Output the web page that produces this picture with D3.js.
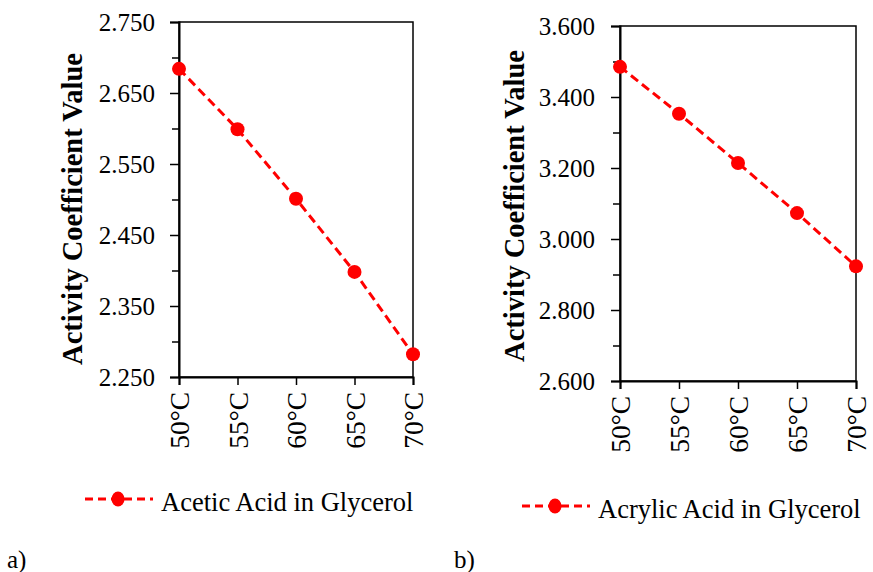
<!DOCTYPE html>
<html><head><meta charset="utf-8">
<script src="https://cdn.jsdelivr.net/npm/d3@7"></script>
<style>body{margin:0;background:#fff}svg{display:block}text{font-family:"Liberation Serif","Times New Roman",serif}</style>
</head><body><svg id="c" width="873" height="572"></svg>
<script>
const categories = ["50°C","55°C","60°C","65°C","70°C"];
const aceticValues = [2.684, 2.599, 2.501, 2.398, 2.282];
const acrylicValues = [3.485, 3.353, 3.214, 3.073, 2.923];
const aceticTicks = [2.250, 2.350, 2.450, 2.550, 2.650, 2.750];
const acrylicTicks = [2.600, 2.800, 3.000, 3.200, 3.400, 3.600];
const aceticMinor = [2.300, 2.400, 2.500, 2.600, 2.700];
const acrylicMinor = [2.700, 2.900, 3.100, 3.300, 3.500];

const svg = d3.select("#c");
const red = "#ff0000";
const serif = "'Liberation Serif','Times New Roman',serif";

function panel(o){
  const g = svg.append("g");
  const x = d3.scalePoint().domain(categories).range([o.x0, o.x1]);
  const y = d3.scaleLinear().domain([o.ticks[0], o.ticks[o.ticks.length-1]]).range([o.y1, o.y0]);
  g.append("rect").attr("x", o.x0).attr("y", o.y0).attr("width", o.x1-o.x0).attr("height", o.y1-o.y0)
    .attr("fill","none").attr("stroke","#000").attr("stroke-width",1.5);
  const ya = g.append("g").attr("transform",`translate(${o.x0},0)`)
    .call(d3.axisLeft(y).tickValues(o.ticks).tickFormat(d3.format(".3f")).tickSize(9).tickPadding(o.pad));
  ya.attr("font-family", serif);
  ya.select(".domain").attr("stroke-width",2);
  ya.selectAll(".tick line").attr("stroke-width",1.5);
  ya.selectAll("text").attr("font-size",25).attr("fill","#000");
  g.append("g").attr("transform",`translate(${o.x0},0)`)
    .call(d3.axisLeft(y).tickValues(o.minor).tickFormat("").tickSize(7))
    .call(s=>s.select(".domain").remove()).selectAll("line").attr("stroke-width",1.5);
  const xa = g.append("g").attr("transform",`translate(0,${o.y1})`)
    .call(d3.axisBottom(x).tickSize(8).tickPadding(0));
  xa.attr("font-family", serif);
  xa.select(".domain").attr("stroke-width",2);
  xa.selectAll(".tick line").attr("stroke-width",1.5);
  xa.selectAll("text").attr("font-size",27.5).attr("fill","#000")
    .attr("text-anchor","end").attr("dy","0.35em")
    .attr("transform","translate(0,15) rotate(-90)").attr("x",0).attr("y",0);
  g.append("text").attr("transform",`translate(${o.tx},${o.ty}) rotate(-90)`)
    .attr("text-anchor","middle").attr("dy","0.35em").attr("font-size",28.5).attr("font-weight","bold")
    .text("Activity Coefficient Value");
  const line = d3.line().x((d,i)=>x(categories[i])).y(d=>y(d));
  g.append("path").datum(o.values).attr("d",line).attr("fill","none").attr("stroke",red)
    .attr("stroke-width",3).attr("stroke-dasharray","9,5");
  g.selectAll("circle.pt").data(o.values).enter().append("circle")
    .attr("cx",(d,i)=>x(categories[i])).attr("cy",d=>y(d)).attr("r",7).attr("fill",red);
  const lg = g.append("g");
  lg.append("line").attr("x1",o.lx).attr("x2",o.lx+68).attr("y1",o.ly).attr("y2",o.ly)
    .attr("stroke",red).attr("stroke-width",3).attr("stroke-dasharray","8,5");
  lg.append("ellipse").attr("cx",o.lx+33).attr("cy",o.ly).attr("rx",6.5).attr("ry",7.5).attr("fill",red);
  lg.append("text").attr("x",o.lx+76).attr("y",o.ly+3).attr("dy","0.35em").attr("font-size",26.5).text(o.label);
  g.append("text").attr("x",o.px).attr("y",568).attr("font-size",25).text(o.panel);
}

panel({x0:179,x1:413,y0:22,y1:377,ticks:aceticTicks,minor:aceticMinor,values:aceticValues,pad:15,
  tx:72,ty:209,lx:85,ly:499,label:"Acetic Acid in Glycerol",px:7,panel:"a)"});
panel({x0:620,x1:856,y0:26,y1:381,ticks:acrylicTicks,minor:acrylicMinor,values:acrylicValues,pad:16,
  tx:514,ty:206,lx:522,ly:506,label:"Acrylic Acid in Glycerol",px:454,panel:"b)"});
</script></body></html>
